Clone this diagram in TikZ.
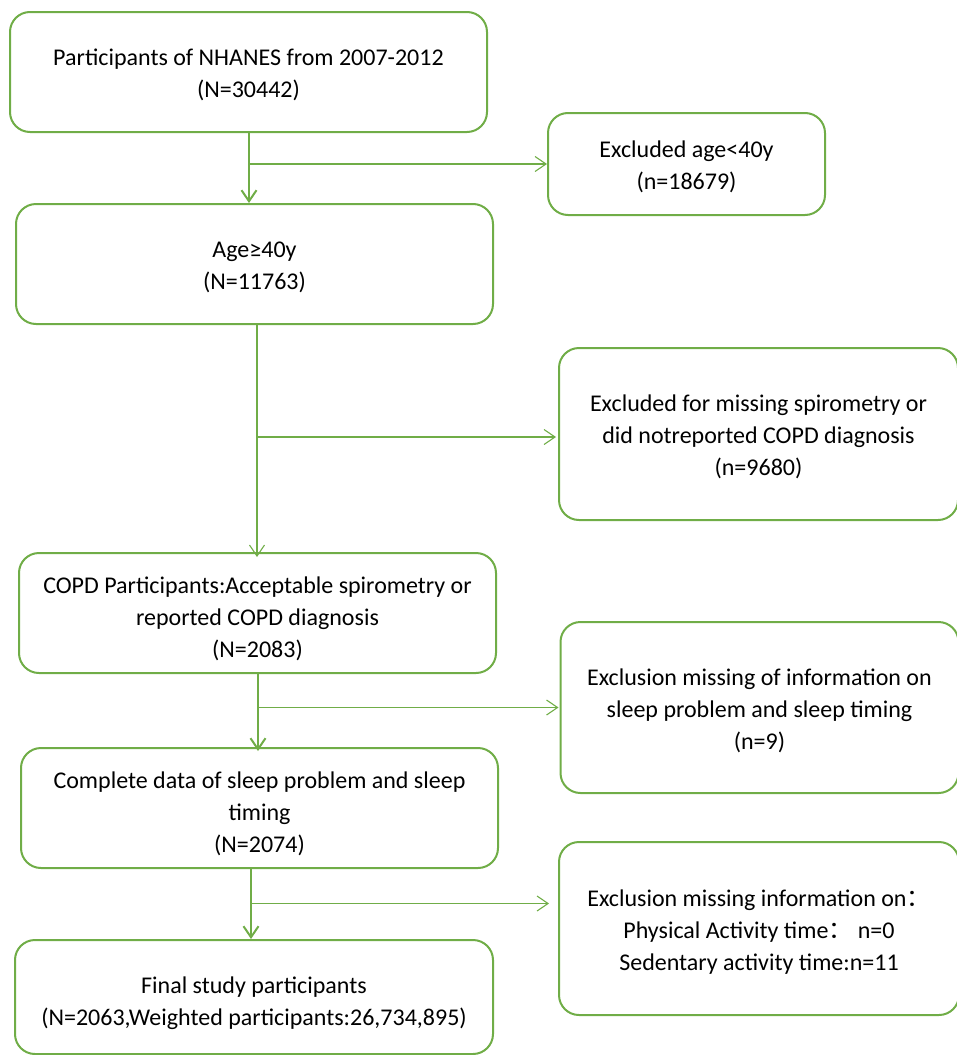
\documentclass[tikz,border=0pt]{standalone}
\usepackage{fontspec}
\setmainfont{Carlito}
\newfontfamily\cjk{Noto Sans CJK SC}
\usetikzlibrary{arrows.meta}
\definecolor{ogreen}{HTML}{70AD47}
\begin{document}
\begin{tikzpicture}[x=1pt,y=-1pt,
  box/.style={draw=ogreen,line width=2pt,rounded corners=20pt,inner sep=0pt},
  txt/.style={align=center,inner sep=0pt,font=\fontsize{24}{32}\selectfont},
  thickarrow/.style={draw=ogreen,line width=2pt,-{Straight Barb[length=11pt,width=15pt,line width=2pt]}},
  thinarrow/.style={draw=ogreen,line width=1.1pt,-{Straight Barb[length=11pt,width=15pt,line width=1.1pt]}}]
\useasboundingbox (0,0) rectangle (956,1055);
\node[box,minimum width=477pt,minimum height=120pt] (b1) at (248.5,72) {};
\node[txt] (b1t) at ([yshift=-3pt]b1.center) {Participants of NHANES from 2007-2012\\(N=30442)};
\node[box,minimum width=277pt,minimum height=102pt] (e1) at (686.5,164) {};
\node[txt] (e1t) at ([yshift=-3pt]e1.center) {Excluded age<40y\\(n=18679)};
\node[box,minimum width=477pt,minimum height=120pt] (b2) at (254.5,264) {};
\node[txt] (b2t) at ([yshift=-3pt]b2.center) {Age≥40y\\(N=11763)};
\node[box,minimum width=399pt,minimum height=172pt] (e2) at (758.5,434) {};
\node[txt] (e2t) at ([yshift=-3pt]e2.center) {Excluded for missing spirometry or\\did notreported COPD diagnosis\\(n=9680)};
\node[box,minimum width=477pt,minimum height=120pt] (b3) at (257.5,613) {};
\node[txt] (b3t) at ([yshift=-6pt]b3.center) {COPD Participants:Acceptable spirometry or\\reported COPD diagnosis\\(N=2083)};
\node[box,minimum width=398pt,minimum height=171pt] (e3) at (759.5,707.5) {};
\node[txt] (e3t) at ([yshift=-3pt]e3.center) {Exclusion missing of information on\\sleep problem and sleep timing\\(n=9)};
\node[box,minimum width=477pt,minimum height=120pt] (b4) at (259.5,808) {};
\node[txt] (b4t) at ([yshift=-6pt]b4.center) {Complete data of sleep problem and sleep\\timing\\(N=2074)};
\node[box,minimum width=400pt,minimum height=173pt] (e4) at (759,928.5) {};
\node[txt] (e4t) at ([yshift=-4pt]e4.center) {Exclusion missing information on{\cjk ：}\\Physical Activity time{\cjk ：}\ n=0\\Sedentary activity time:n=11};
\node[box,minimum width=478pt,minimum height=114pt] (b5) at (254,997) {};
\node[txt] (b5t) at ([yshift=-6pt]b5.center) {Final study participants\\(N=2063,Weighted participants:26,734,895)};
% connectors
\coordinate (j1) at (249,164);
\coordinate (j2) at (257,437);
\coordinate (j3) at (258,707.5);
\coordinate (j4) at (251,903.5);
\draw[thickarrow] (b1.south -| j1) -- (b2.north -| j1);
\draw[thinarrow] (j1) -- (e1.west |- j1);
\draw[thinarrow] (b2.south -| j2) -- ([yshift=-5pt]b3.north -| j2);
\draw[thinarrow] (j2) -- ([xshift=-2pt]e2.west |- j2);
\draw[thickarrow] (b3.south -| j3) -- ([yshift=-4pt]b4.north -| j3);
\draw[thinarrow] (j3) -- ([xshift=-1pt]e3.west |- j3);
\draw[thickarrow] (b4.south -| j4) -- (b5.north -| j4);
\draw[thinarrow] (j4) -- ([xshift=-9pt]e4.west |- j4);
\end{tikzpicture}
\end{document}
